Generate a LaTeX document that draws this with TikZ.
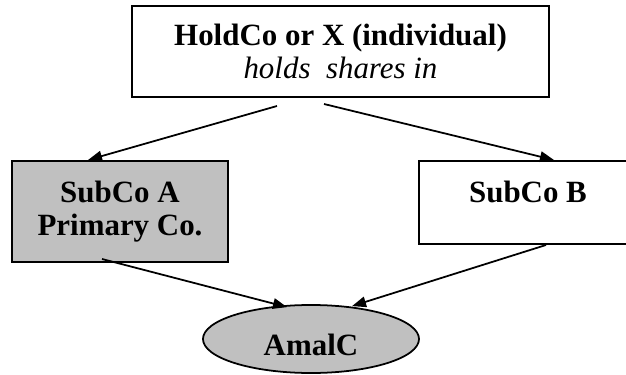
\documentclass[tikz,border=0pt]{standalone}
\usepackage{fontspec}
\setmainfont{Liberation Serif}
\usetikzlibrary{shapes,arrows.meta}
\definecolor{boxgray}{RGB}{192,192,192}

\begin{document}
\begin{tikzpicture}[x=0.025cm,y=-0.025cm,
    font=\fontsize{22}{23.5}\selectfont\bfseries,
    firm/.style={draw,line width=1.4pt,align=center,inner sep=0pt},
    link/.style={-{Triangle[length=10pt,width=7.5pt]},line width=1.25pt}]
    \clip (0,0) rectangle (626,375);

    \node[firm,minimum width=10.425cm,minimum height=2.275cm] (holdco) at (340.5,51.5)
        {HoldCo or X (individual)\\ \mdseries\itshape holds~~shares in};
    \node[firm,fill=boxgray,minimum width=5.4cm,minimum height=2.525cm] (subA) at (120,211.5)
        {SubCo A\\Primary Co.};
    \node[firm,minimum width=5.45cm,minimum height=2.075cm,text height=15pt,text depth=15pt] (subB) at (528,202.5)
        {SubCo B};
    \node[ellipse,draw,fill=boxgray,line width=1.25pt,minimum width=5.4cm,minimum height=1.7cm,
        inner sep=0pt,text height=22.8pt,text depth=0pt] (amalc) at (311,339) {AmalC};

    \draw[link] ([shift={(-63.5,8)}]holdco.south) -- ([shift={(-32,0)}]subA.north);
    \draw[link] ([shift={(-16.5,6)}]holdco.south) -- ([shift={(26,0)}]subB.north);
    \draw[link] ([shift={(-18,-4)}]subA.south) -- ([shift={(-24,3)}]amalc.north);
    \draw[link] ([shift={(18,0)}]subB.south) -- ([shift={(41,2)}]amalc.north);
\end{tikzpicture}
\end{document}
